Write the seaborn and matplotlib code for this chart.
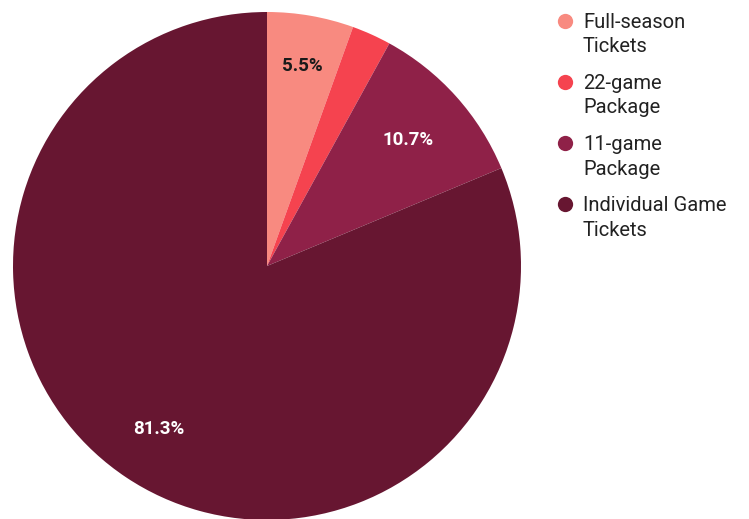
import matplotlib
matplotlib.use("Agg")
import matplotlib.pyplot as plt
from matplotlib.lines import Line2D
import seaborn as sns
import numpy as np

categories = ["Full-season\nTickets", "22-game\nPackage", "11-game\nPackage", "Individual Game\nTickets"]
shares = [5.5, 2.5, 10.7, 81.3]
hex_colors = ["#F88A80", "#F5434F", "#8F2148", "#671631"]
label_colors = ["#1a1a1a", "white", "white", "white"]
label_radius = [0.80, None, 0.745, 0.77]   # None: slice too thin for a label

sns.set_theme(style="white")
plt.rcParams["font.family"] = ["Roboto", "DejaVu Sans"]
palette = sns.color_palette(hex_colors)

W, H, DPI = 749, 519, 100
fig = plt.figure(figsize=(W / DPI, H / DPI), dpi=DPI)
cx, cy, r = 267, 266, 254
ax = fig.add_axes([(cx - r) / W, (H - cy - r) / H, 2 * r / W, 2 * r / H])

wedges, _ = ax.pie(shares, colors=palette, startangle=90, counterclock=False,
                   wedgeprops=dict(linewidth=0))
ax.set_aspect("equal")
ax.set_xlim(-1, 1)
ax.set_ylim(-1, 1)
ax.axis("off")

# percentage labels inside the larger slices
total = sum(shares)
cum = 0.0
for val, col, d in zip(shares, label_colors, label_radius):
    mid = 90 - (cum + val / 2) / total * 360
    cum += val
    if d is None:
        continue
    ax.text(d * np.cos(np.radians(mid)), d * np.sin(np.radians(mid)), f"{val:.1f}%",
            ha="center", va="center", color=col, fontsize=13.5, fontweight="bold")

# legend: dot aligned with the first line of each two-line label
def fx(px):
    return px / W

def fy(py):
    return 1 - py / H

for i, (lab, col) in enumerate(zip(categories, palette)):
    top = 20.5 + 61.3 * i
    fig.add_artist(Line2D([fx(565)], [fy(top)], transform=fig.transFigure, marker="o",
                          linestyle="none", markersize=11, markerfacecolor=col,
                          markeredgewidth=0))
    for j, line in enumerate(lab.split("\n")):
        fig.text(fx(583), fy(top + 7 + 24.5 * j), line, ha="left", va="baseline",
                 fontsize=14.5, color="#222222")

fig.savefig("out.png", dpi=DPI)
